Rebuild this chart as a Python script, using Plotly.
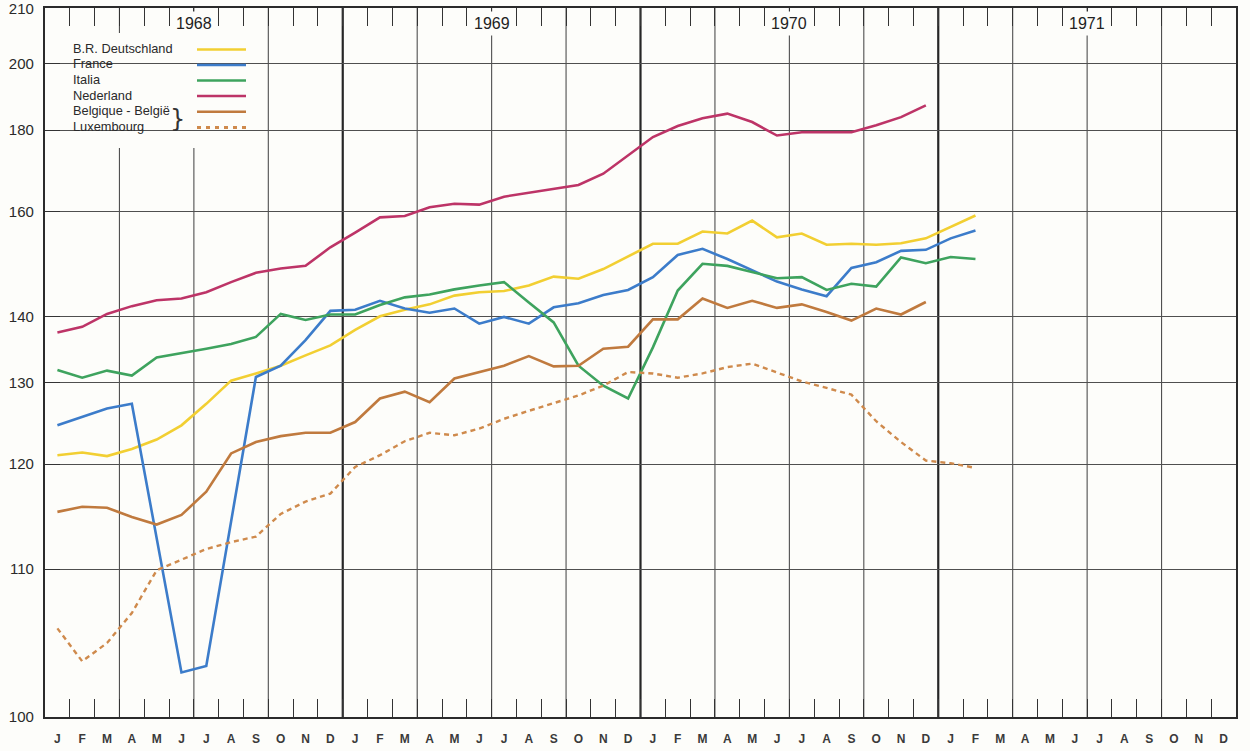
import math
import plotly.graph_objects as go

# ---------------- data ----------------
MONTHS = ["J", "F", "M", "A", "M", "J", "J", "A", "S", "O", "N", "D"]
YEARS = ["1968", "1969", "1970", "1971"]

deutschland = [121.0, 121.3, 120.9, 121.7, 122.8, 124.5, 127.2, 130.3, 131.3, 132.4, 133.9, 135.4,
               137.8, 140.0, 141.1, 142.0, 143.5, 144.1, 144.3, 145.3, 146.9, 146.5, 148.3, 150.7,
               153.2, 153.2, 155.7, 155.3, 158.0, 154.5, 155.3, 153.0, 153.2, 153.0, 153.3, 154.3,
               156.6, 159.1]
france = [124.5, 125.5, 126.6, 127.2, 112.7, 102.6, 103.0, 114.2, 130.8, 132.4, 136.2, 140.9,
          141.1, 142.6, 141.3, 140.6, 141.3, 138.8, 139.9, 138.8, 141.5, 142.2, 143.6, 144.5,
          146.8, 151.0, 152.2, 150.2, 148.0, 146.0, 144.6, 143.4, 148.5, 149.6, 151.8, 152.0,
          154.3, 155.9]
italia = [131.8, 130.7, 131.7, 131.0, 133.6, 134.2, 134.9, 135.6, 136.7, 140.4, 139.4, 140.3,
          140.3, 141.9, 143.2, 143.7, 144.6, 145.3, 145.9, 142.3, 139.0, 132.4, 129.6, 127.9,
          135.1, 144.4, 149.3, 148.9, 147.8, 146.6, 146.8, 144.5, 145.6, 145.1, 150.5, 149.4,
          150.6, 150.2]
nederland = [137.4, 138.3, 140.4, 141.7, 142.7, 143.0, 144.1, 145.9, 147.6, 148.4, 148.9, 152.5,
             155.5, 158.7, 159.0, 160.9, 161.7, 161.5, 163.3, 164.2, 165.0, 166.0, 168.7, 173.2,
             178.1, 181.1, 183.3, 184.6, 182.2, 178.5, 179.4, 179.4, 179.4, 181.3, 183.6, 187.0]
belgique = [115.1, 115.6, 115.5, 114.6, 113.9, 114.8, 117.1, 121.2, 122.5, 123.2, 123.6, 123.6,
            124.9, 127.9, 128.8, 127.4, 130.6, 131.5, 132.4, 133.8, 132.3, 132.4, 134.9, 135.2,
            139.5, 139.5, 143.0, 141.4, 142.6, 141.4, 142.0, 140.7, 139.3, 141.3, 140.3, 142.4]
luxembourg = [105.5, 103.3, 104.5, 106.6, 109.9, 110.8, 111.7, 112.3, 112.8, 114.9, 116.1, 116.9,
              119.7, 121.0, 122.6, 123.6, 123.3, 124.1, 125.3, 126.3, 127.3, 128.3, 129.6, 131.5,
              131.3, 130.7, 131.3, 132.2, 132.7, 131.4, 130.2, 129.3, 128.4, 125.0, 122.5, 120.4,
              120.1, 119.6]

series_names = ["B.R. Deutschland", "France", "Italia", "Nederland",
                "Belgique - België", "Luxembourg"]
series_values = [deutschland, france, italia, nederland, belgique, luxembourg]

y_tick_values = [100, 110, 120, 130, 140, 160, 180, 200]
y_top_label = "210"

# ---------------- scale / style ----------------
OFFSET = 80            # the printed scale is logarithmic in (index - 80)
Y_BOTTOM = 100
Y_TOP_POS = 219.6      # value at the upper frame edge (labelled "210" on the original)

colors = ["#f2cf32", "#3c7cca", "#3ea35e", "#bd3467", "#c07a3e", "#cf8a4c"]
dashes = ["solid", "solid", "solid", "solid", "solid", "5px,4px"]

BG = "#fdfdfa"
GRID = "#4f4f4f"
FONT = "Liberation Sans, Arial, sans-serif"

W, H = 1250, 751
ML, MR, MT, MB = 45, 14, 8, 34
PW, PH = W - ML - MR, H - MT - MB


def px_x(px):
    return (px - ML) / PW


def px_y(py):
    return (H - MB - py) / PH


fig = go.Figure()
for name, vals, col, dash in zip(series_names, series_values, colors, dashes):
    fig.add_trace(go.Scatter(
        x=list(range(len(vals))),
        y=[v - OFFSET for v in vals],
        mode="lines",
        name=name,
        line=dict(color=col, width=2.6 if dash == "solid" else 2.4, dash=dash),
        showlegend=False,
        hovertemplate=name + ": %{customdata}<extra></extra>",
        customdata=vals,
    ))

n_months = len(MONTHS) * len(YEARS)
shapes = []
# vertical grid lines every quarter, heavier at year boundaries
for b in range(3, n_months, 3):
    is_year = b % 12 == 0
    shapes.append(dict(type="line", xref="x", yref="paper", x0=b - 0.5, x1=b - 0.5,
                       y0=0, y1=1, layer="below",
                       line=dict(color="#262626" if is_year else GRID,
                                 width=2.2 if is_year else 1.1)))

# legend panel (covers the grid)
shapes.append(dict(type="rect", xref="paper", yref="paper",
                   x0=0.002, x1=px_x(263), y0=px_y(148), y1=px_y(33),
                   fillcolor=BG, line=dict(width=0), layer="between"))

annotations = []
row_y = [48.5, 64.0, 79.5, 95.0, 110.7, 126.5]
for i, (name, col, dash) in enumerate(zip(series_names, colors, dashes)):
    annotations.append(dict(x=px_x(71), y=px_y(row_y[i]), xref="paper", yref="paper",
                            text=name, showarrow=False, xanchor="left", yanchor="middle",
                            font=dict(family=FONT, size=12.8, color="#2a2a2a")))
    shapes.append(dict(type="line", xref="paper", yref="paper",
                       x0=px_x(197), x1=px_x(246), y0=px_y(row_y[i] + 1), y1=px_y(row_y[i] + 1),
                       layer="above",
                       line=dict(color=col, width=2.6 if dash == "solid" else 3,
                                 dash=dash if dash == "solid" else "4px,5px")))
annotations.append(dict(x=px_x(177), y=px_y(119), xref="paper", yref="paper",
                        text="}", showarrow=False, xanchor="center", yanchor="middle",
                        font=dict(family="DejaVu Sans, sans-serif", size=24, color="#333")))

# year labels on the top edge
for k, yr in enumerate(YEARS):
    annotations.append(dict(x=12 * k + 5.5, y=1, xref="x", yref="paper", yshift=-3,
                            text=yr, showarrow=False, xanchor="center", yanchor="top",
                            bgcolor=BG, borderpad=3,
                            font=dict(family=FONT, size=16, color="#222")))

fig.update_layout(
    width=W, height=H,
    margin=dict(l=ML, r=MR, t=MT, b=MB, autoexpand=False),
    paper_bgcolor=BG, plot_bgcolor=BG,
    shapes=shapes, annotations=annotations,
    showlegend=False,
    xaxis=dict(
        range=[-0.5, n_months - 0.5], automargin=False,
        tickmode="array", tickvals=list(range(n_months)), ticktext=MONTHS * len(YEARS),
        ticks="", showgrid=False, zeroline=False,
        showline=True, linewidth=2.2, linecolor="#2b2b2b", mirror="allticks",
        tickfont=dict(family=FONT, size=12, color="#3a3a3a", weight="bold"),
        ticklabelstandoff=9,
        minor=dict(tickmode="array", tickvals=[b - 0.5 for b in range(1, n_months)],
                   ticks="inside", ticklen=18, tickwidth=1.3, tickcolor="#333",
                   showgrid=False),
    ),
    yaxis=dict(
        type="log", automargin=False,
        range=[math.log10(Y_BOTTOM - OFFSET), math.log10(Y_TOP_POS - OFFSET) + 0.0004],
        tickmode="array",
        tickvals=[v - OFFSET for v in y_tick_values] + [Y_TOP_POS - OFFSET],
        ticktext=[str(v) for v in y_tick_values] + [y_top_label],
        ticks="inside", ticklen=15, tickwidth=1.3, tickcolor="#333",
        showgrid=True, gridcolor=GRID, gridwidth=1.1, zeroline=False,
        showline=True, linewidth=2.2, linecolor="#2b2b2b", mirror=True,
        tickfont=dict(family=FONT, size=15, color="#2a2a2a"),
        ticklabelstandoff=6, ticklabeloverflow="allow",
    ),
)

fig.write_html("out.html", config={"displayModeBar": False},
               post_script="document.body.style.margin='0';")
